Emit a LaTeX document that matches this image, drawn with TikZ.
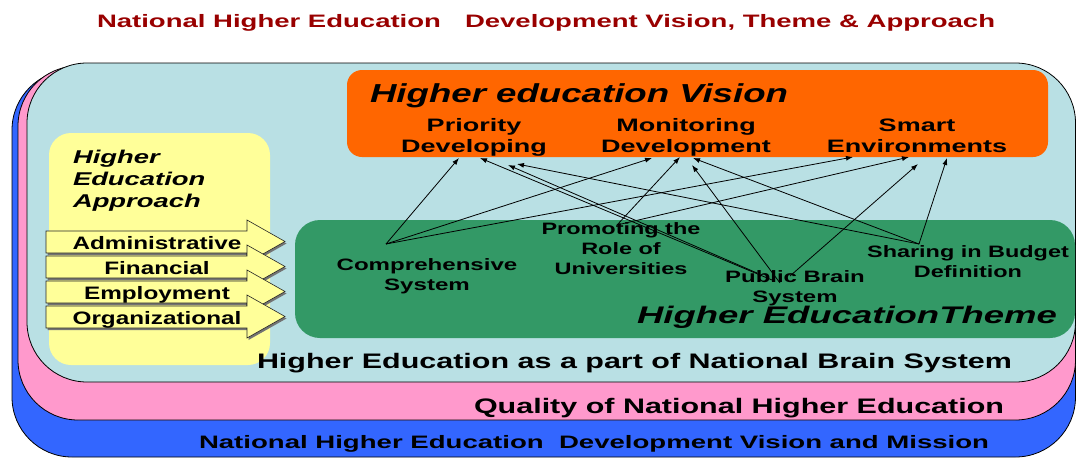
\documentclass[tikz,border=0pt]{standalone}
\usepackage{fontspec}
\setmainfont{Liberation Sans}
\usepackage{graphicx}
\usetikzlibrary{arrows.meta}

\definecolor{titlered}{RGB}{153,0,0}
\definecolor{layerblue}{RGB}{51,102,255}
\definecolor{layerpink}{RGB}{255,153,204}
\definecolor{layerlight}{RGB}{185,224,228}
\definecolor{visionorange}{RGB}{255,102,0}
\definecolor{themegreen}{RGB}{51,153,102}
\definecolor{approachyellow}{RGB}{255,255,153}

\newcommand{\hsc}[2]{\scalebox{#1}[1]{#2}}
\newcommand{\mlc}[1]{\begin{tabular}[t]{@{}c@{}}#1\end{tabular}}
\newcommand{\mll}[1]{\begin{tabular}[t]{@{}l@{}}#1\end{tabular}}
\newcommand{\fitw}[2]{\resizebox{#1}{\height}{#2}}

\begin{document}
\begin{tikzpicture}[x=1pt,y=-1pt,
  every node/.style={inner sep=0pt,outer sep=0pt},
  layer/.style={draw=black,line width=0.8pt,rounded corners=60pt},
  blockarrow/.style={draw=black!85,line width=0.6pt,fill=approachyellow},
  arrowshadow/.style={fill=black!55},
  visionlabel/.style={anchor=base,font=\fontsize{18}{21}\selectfont\bfseries},
  themelabel/.style={anchor=base,font=\fontsize{16.5}{20}\selectfont\bfseries},
  bottomlabel/.style={anchor=base west,font=\fontsize{21}{25}\selectfont\bfseries},
  link/.style={draw=black,line width=0.8pt,-{Latex[length=7pt,width=5pt]}}
]
\useasboundingbox (0,0) rectangle (1077,458);
\fill[white] (0,0) rectangle (1077,458);

% layered frames
\filldraw[layer,fill=layerblue] (12,70) rectangle (1075.5,457);
\filldraw[layer,fill=layerpink] (18,66) rectangle (1075.5,420);
\filldraw[layer,fill=layerlight] (27,63) rectangle (1075.5,382);

% panels
\fill[approachyellow,rounded corners=22pt] (49,133) rectangle (270,365);
\fill[visionorange,rounded corners=15pt] (347,70) rectangle (1048,157);
\fill[themegreen,rounded corners=25pt] (295,220) rectangle (1075,338);

% title
\node[anchor=base west,text=titlered,font=\fontsize{18}{22}\selectfont\bfseries] (title1) at (97,27) {\fitw{344pt}{National Higher Education}};
\node[anchor=base west,text=titlered,font=\fontsize{18}{22}\selectfont\bfseries] (title2) at (465,27) {\fitw{530pt}{Development Vision, Theme \& Approach}};

% vision
\node[anchor=base west,font=\fontsize{26}{30}\selectfont\bfseries\itshape] (visiontitle) at (370,102) {\fitw{418pt}{Higher education Vision}};
\node[visionlabel] (prio) at (474,131) {\hsc{1.5}{\mlc{Priority\\Developing}}};
\node[visionlabel] (moni) at (686,131) {\hsc{1.5}{\mlc{Monitoring\\Development}}};
\node[visionlabel] (smart) at (917,131) {\hsc{1.5}{\mlc{Smart\\Environments}}};

% approach
\node[anchor=base west,font=\fontsize{18.5}{22}\selectfont\bfseries\itshape] (approach) at (73,163) {\hsc{1.48}{\mll{Higher\\Education\\Approach}}};

% theme
\node[themelabel] (comp) at (427,270) {\hsc{1.46}{\mlc{Comprehensive\\System}}};
\node[themelabel] (prom) at (621,234) {\hsc{1.42}{\mlc{Promoting the\\Role of\\Universities}}};
\node[themelabel] (pubb) at (795,282) {\hsc{1.45}{\mlc{Public Brain\\System}}};
\node[themelabel] (shar) at (968,257) {\hsc{1.42}{\mlc{Sharing in Budget\\Definition}}};
\node[anchor=base west,font=\fontsize{24}{28}\selectfont\bfseries\itshape] (themetitle) at (637,323) {\fitw{420pt}{Higher EducationTheme}};

% layer captions
\node[bottomlabel] (cap1) at (257,368) {\fitw{755pt}{Higher Education as a part of National Brain System}};
\node[bottomlabel] (cap2) at (474,413) {\fitw{530pt}{Quality of National Higher Education}};
\node[bottomlabel,font=\fontsize{18}{22}\selectfont\bfseries] (cap3) at (199,448) {\fitw{790pt}{National Higher Education\ \ Development Vision and Mission}};

% block arrows
\foreach \i/\lab in {0/Administrative,1/Financial,2/Employment,3/Organizational}{
  \pgfmathsetmacro\t{231+25*\i}
  \fill[arrowshadow] (47.5,\t+2) -- (248.5,\t+2) -- (248.5,\t-9) -- (286.5,\t+12.5) -- (248.5,\t+34) -- (248.5,\t+24) -- (47.5,\t+24) -- cycle;
  \filldraw[blockarrow] (46,\t) -- (247,\t) -- (247,\t-11) -- (285,\t+10.5) -- (247,\t+32) -- (247,\t+22) -- (46,\t+22) -- cycle;
  \node[anchor=base,font=\fontsize{18}{21}\selectfont\bfseries] (arr\i) at (157,\t+18) {\hsc{1.35}{\lab}};
}

% link end points
\coordinate (cs) at (386,244);
\coordinate (ps) at (617,225);
\coordinate (pb1) at (757,273);
\coordinate (pb2) at (772,280);
\coordinate (pb3) at (780,283);
\coordinate (pb4) at (790,276);
\coordinate (ss) at (919,244);
\coordinate (t1) at (459,158);
\coordinate (t2) at (480,158);
\coordinate (t3) at (508,165);
\coordinate (t4) at (517,164);
\coordinate (m1) at (652,158);
\coordinate (m2) at (680,157);
\coordinate (m3) at (692,165);
\coordinate (m4) at (693,158);
\coordinate (s1) at (853,157);
\coordinate (s2) at (909,157);
\coordinate (s3) at (918,164);
\coordinate (s4) at (947,158);

\draw[link] (cs) -- (t1);
\draw[link] (cs) -- (m1);
\draw[link] (cs) -- (s1);
\draw[link] (ps) -- (m2);
\draw[link] (ps) -- (s2);
\draw[link] (pb1) -- (t3);
\draw[link] (pb2) -- (t2);
\draw[link] (pb3) -- (m3);
\draw[link] (pb4) -- (s3);
\draw[link] (ss) -- (t4);
\draw[link] (ss) -- (m4);
\draw[link] (ss) -- (s4);
\end{tikzpicture}
\end{document}
